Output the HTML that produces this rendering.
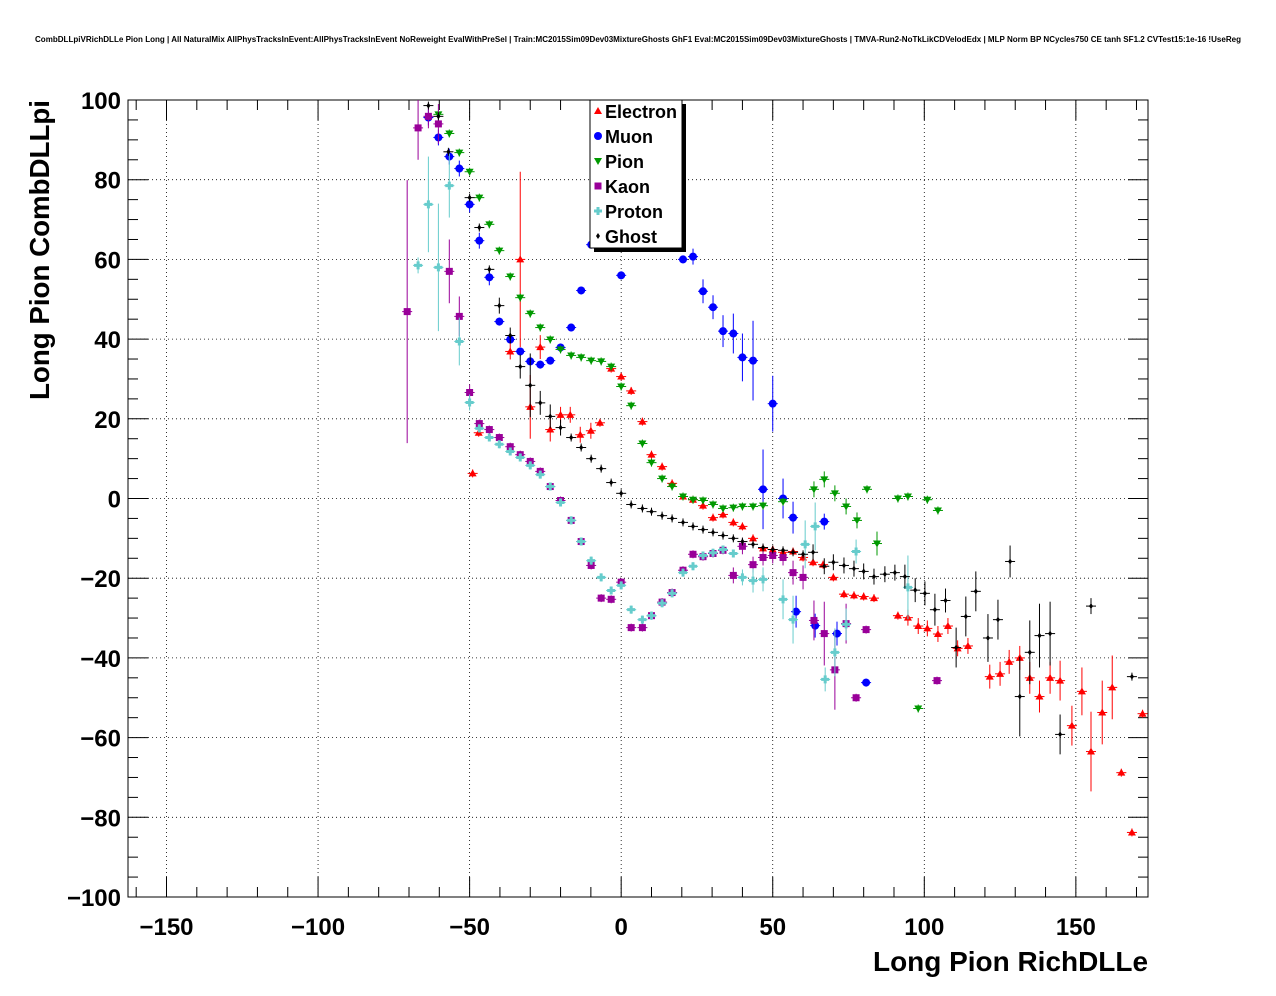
<!DOCTYPE html>
<html><head><meta charset="utf-8">
<style>
html,body{margin:0;padding:0;background:#fff;}
svg{display:block;font-family:"Liberation Sans",Arial,sans-serif;}
</style></head>
<body>
<svg id="chart" width="1276" height="996" xmlns="http://www.w3.org/2000/svg">
<rect width="1276" height="996" fill="#fff"/>
<text x="638" y="42" font-size="8" font-weight="bold" text-anchor="middle" textLength="1206" lengthAdjust="spacingAndGlyphs">CombDLLpiVRichDLLe Pion Long | All NaturalMix AllPhysTracksInEvent:AllPhysTracksInEvent NoReweight EvalWithPreSel | Train:MC2015Sim09Dev03MixtureGhosts GhF1 Eval:MC2015Sim09Dev03MixtureGhosts | TMVA-Run2-NoTkLikCDVelodEdx | MLP Norm BP NCycles750 CE tanh SF1.2 CVTest15:1e-16 !UseReg</text>
<g id="grid"></g>
<g id="axes"></g>
<g id="marks"></g>
<text x="1148" y="971" font-size="28" font-weight="bold" text-anchor="end" textLength="275" lengthAdjust="spacingAndGlyphs">Long Pion RichDLLe</text>
<text transform="translate(49,100) rotate(-90)" font-size="28" font-weight="bold" text-anchor="end" textLength="300" lengthAdjust="spacingAndGlyphs">Long Pion CombDLLpi</text>
<g id="legend"></g>
</svg>
<script>
const xTicks=[-150,-100,-50,0,50,100,150];
const yTicks=[-100,-80,-60,-40,-20,0,20,40,60,80,100];
const seriesNames=["Electron","Muon","Pion","Kaon","Proton","Ghost"];
const electronX=[-49,-47,-36.6,-33.3,-30,-26.7,-23.4,-20,-16.8,-13.5,-10,-7,-3.3,0,3.3,7,10,13.5,16.8,20.4,23.7,27,30.3,33.6,37,40,43.5,46.8,50,53.4,56.7,60,63.3,66.6,70,73.5,76.8,80,83.4,91.3,94.6,98,101,104.5,107.8,111,114.4,121.6,125,128,131.5,134.8,138,141.5,144.8,148.7,152,155,158.7,162,165,168.5,172];
const electronY=[6.3,16.5,36.9,60,23,38,17.3,21,21,16,17,19,32.6,30.6,27,19.3,11,8,3.8,0.5,-0.3,-1.8,-4.8,-4,-6,-7,-10,-12.5,-12.8,-13.5,-13.3,-14.8,-16,-16.6,-19.8,-24,-24.3,-24.6,-25,-29.4,-29.9,-32,-32.6,-34,-32,-37.6,-37,-44.7,-44,-41,-40,-45,-49.7,-45,-45.7,-57,-48.4,-63.5,-53.7,-47.4,-68.8,-83.8,-54];
const electronErr=[1,1,2,22,8,3,3,2,2,2,2,1,1,1,1,1,1,1,1,1,1,1,1,1,1,1,1,1,1,1,1,1,1,1,1,1,1,1,1,1,2,2,2,2,2,2,2,3,3,3,3,4,4,4,5,5,6,10,8,8,1,1,1];
const muonX=[-63.6,-60.3,-56.7,-53.4,-50,-46.8,-43.5,-40.2,-36.6,-33.3,-30,-26.7,-23.4,-20,-16.5,-13.2,-9.9,0,20.4,23.7,27,30.3,33.6,37,40,43.5,50,46.8,53.4,56.7,67,57.7,64,71.2,80.8];
const muonY=[95.6,90.6,85.8,82.8,73.8,64.7,55.5,44.4,39.9,36.9,34.4,33.6,34.6,37.9,42.9,52.2,63.7,56,60,60.7,52,48,42,41.4,35.4,34.6,23.8,2.3,0,-4.8,-5.8,-28.4,-31.9,-33.9,-46.2];
const muonErr=[2,2,2,2,2,2,2,1,1,1,1,1,1,1,1,1,1,1,1,2,3,3,4,5,6,10,7,10,5,4,2,4,3,3,1];
const pionX=[-60.3,-56.7,-53.4,-50,-46.8,-43.5,-40.2,-36.6,-33.3,-30,-26.7,-23.4,-20,-16.5,-13.2,-9.9,-6.6,-3.3,0,3.3,7,10,13.5,16.8,20.4,23.7,27,30.3,33.6,37,40,43.5,46.8,53.4,63.6,67,70.5,74.2,77.8,81.1,84.4,91.3,94.6,98,101,104.5];
const pionY=[96.4,91.6,86.8,82,75.5,68.8,62.2,55.7,50.4,46.4,42.9,39.9,37.4,35.9,35.4,34.6,34.4,33.1,28.1,23.3,13.8,9,5,3,0.5,-0.3,-0.5,-1.5,-2.5,-2.3,-2,-2,-1.8,-0.8,2.3,4.8,1.3,-2,-5.5,2.3,-11.3,0,0.5,-52.7,-0.3,-3];
const pionErr=[1,1,1,1,1,1,1,1,1,1,1,1,1,1,1,1,1,1,1,1,1,1,1,1,1,1,1,1,1,1,1,1,1,1,2,2,2,2,2,1,3,1,1,1,1,1];
const kaonX=[-70.6,-67,-63.6,-60.3,-56.7,-53.4,-50,-46.8,-43.5,-40.2,-36.6,-33.3,-30,-26.7,-23.4,-20,-16.5,-13.2,-9.9,-6.6,-3.3,0,3.3,7,10,13.5,16.8,20.4,23.7,27,30.3,33.6,37,40,43.5,46.8,50,53.4,56.7,60,63.6,67,70.5,74.2,77.5,80.8,104.2];
const kaonY=[46.9,93,95.9,94,57,45.7,26.6,18.8,17.3,15.3,13,11,9.3,6.8,3,-0.5,-5.5,-10.8,-16.8,-25,-25.3,-21,-32.4,-32.4,-29.4,-26,-23.6,-18,-14,-14.6,-13.8,-13,-19.3,-12,-16.6,-14.8,-14.3,-14.8,-18.6,-19.8,-30.6,-33.9,-43,-31.4,-50,-32.9,-45.7];
const kaonErr=[33,8,3,5,8,5,2,1,1,1,1,1,1,1,1,1,1,1,1,1,1,1,1,1,1,1,1,1,1,1,1,1,2,2,2,2,2,2,3,3,5,8,10,5,1,1,1];
const protonX=[-67,-63.6,-60.3,-56.7,-53.4,-50,-46.8,-43.5,-40.2,-36.6,-33.3,-30,-26.7,-23.4,-20,-16.5,-13.2,-9.9,-6.6,-3.3,0,3.3,7,10,13.5,16.8,20.4,23.7,27,30.3,33.6,37,40,43.5,46.8,53.4,56.7,60.7,64,67.3,70.5,74.2,77.5,94.6];
const protonY=[58.5,73.8,58,78.5,39.4,24.1,17.6,15.3,13.6,11.8,10.3,8.3,6,3,-1,-5.5,-10.8,-15.6,-19.8,-23.1,-21.8,-27.9,-30.4,-29.4,-26.3,-23.8,-18.6,-17,-14.3,-13.6,-12.8,-13.8,-19.8,-20.6,-20.3,-25.3,-30.4,-11.5,-7,-45.4,-38.6,-31.6,-13.3,-22.3];
const protonErr=[2,12,16,8,6,2,1,1,1,1,1,1,1,1,1,1,1,1,1,1,1,1,1,1,1,1,1,1,1,1,1,1,2,3,3,5,6,6,6,3,6,4,3,8];
const ghostX=[-63.6,-60.3,-57,-50,-46.8,-43.5,-40.2,-36.6,-33.3,-30,-26.7,-23.4,-20,-16.5,-13.2,-9.9,-6.6,-3.3,0,3.3,7,10,13.5,16.8,20.4,23.7,27,30.3,33.6,37,40,43.5,46.8,50,53.4,56.7,60,63.3,67,70,73.5,76.8,80,83.4,87,90.3,93.6,97,100.2,103.5,107,110.5,113.7,117,121,124.3,128.3,131.5,134.8,138,141.5,144.8,155,168.5];
const ghostY=[98.6,95.9,87,75.5,68,57.5,48.4,40.9,33.1,28.4,24,20.6,17.8,15.3,12.8,10,7.5,4,1.3,-1.5,-2.5,-3.3,-4.3,-5,-6,-7,-7.8,-8.5,-9.3,-10,-10.8,-11.5,-12.3,-12.8,-13,-13.5,-14,-13.5,-17,-16,-16.8,-17.6,-18.3,-19.6,-19,-18.6,-19.6,-23,-23.8,-27.9,-25.6,-37.4,-29.6,-23.3,-35,-30.4,-15.8,-49.7,-38.6,-34.4,-33.9,-59.2,-27,-44.7];
const ghostErr=[1,1,1,1,1,1,2,2,3,8,3,3,2,1,1,1,1,1,1,1,1,1,1,1,1,1,1,1,1,1,1,1,1,1,1,1,1,2,2,2,2,2,2,2,2,2,3,3,3,4,3,5,5,5,6,5,4,10,8,8,8,5,2,1];

const X0=128,X1=1148,Y0=100,Y1=897,xmin=-162.7,xmax=173.8,ymin=-100,ymax=100;
const sx=v=>X0+(v-xmin)/(xmax-xmin)*(X1-X0);
const sy=v=>Y1-(v-ymin)/(ymax-ymin)*(Y1-Y0);
const NS="http://www.w3.org/2000/svg";
function mk(tag,attrs,parent){const e=document.createElementNS(NS,tag);for(const k in attrs)e.setAttribute(k,attrs[k]);parent.appendChild(e);return e;}
const grid=document.getElementById('grid'),axes=document.getElementById('axes'),marks=document.getElementById('marks'),legend=document.getElementById('legend');
xTicks.forEach(t=>{const l=mk('line',{x1:sx(t),x2:sx(t),y1:Y0,y2:Y1,stroke:'#000','stroke-width':0.8,'stroke-dasharray':'1,3'},grid);

});
yTicks.forEach(t=>{const l=mk('line',{x1:X0,x2:X1,y1:sy(t),y2:sy(t),stroke:'#000','stroke-width':0.8,'stroke-dasharray':'1,3'},grid);

});
const fr=mk('rect',{x:X0,y:Y0,width:X1-X0,height:Y1-Y0,fill:'none',stroke:'#000','stroke-width':1},axes);


for(let v=-160;v<=170;v+=10){const maj=v%50===0;const len=maj?20:10;
mk('line',{x1:sx(v),x2:sx(v),y1:Y1,y2:Y1-len,stroke:'#000'},axes);
mk('line',{x1:sx(v),x2:sx(v),y1:Y0,y2:Y0+len,stroke:'#000'},axes);}
for(let v=-100;v<=100;v+=5){const maj=v%20===0;const len=maj?20:10;
mk('line',{x1:X0,x2:X0+len,y1:sy(v),y2:sy(v),stroke:'#000'},axes);
mk('line',{x1:X1,x2:X1-len,y1:sy(v),y2:sy(v),stroke:'#000'},axes);}
xTicks.forEach(t=>{const e=mk('text',{x:sx(t),y:935,'font-size':24,'font-weight':'bold','text-anchor':'middle'},axes);e.textContent=(t<0?'\u2212'+(-t):t);

});
yTicks.forEach(t=>{const e=mk('text',{x:121,y:sy(t)+9,'font-size':24,'font-weight':'bold','text-anchor':'end'},axes);e.textContent=(t<0?'\u2212'+(-t):t);

});
const colors=["#ff0000","#0000ff","#009900","#990099","#66cccc","#000000"];
function marker(kind,cx,cy,col,parent){
 if(kind===0)return mk('polygon',{points:`${cx},${cy-4} ${cx+4},${cy+3} ${cx-4},${cy+3}`,fill:col},parent);
 if(kind===1)return mk('circle',{cx:cx,cy:cy,r:4,fill:col},parent);
 if(kind===2)return mk('polygon',{points:`${cx-4},${cy-3} ${cx+4},${cy-3} ${cx},${cy+4}`,fill:col},parent);
 if(kind===3)return mk('rect',{x:cx-3.5,y:cy-3.5,width:7,height:7,fill:col},parent);
 if(kind===4)return mk('path',{d:`M${cx-4},${cy-1.5}h2.5v-2.5h3v2.5h2.5v3h-2.5v2.5h-3v-2.5h-2.5z`,fill:col},parent);
 return mk('polygon',{points:`${cx},${cy-3} ${cx+2},${cy} ${cx},${cy+3} ${cx-2},${cy}`,fill:col},parent);
}
const allX=[electronX,muonX,pionX,kaonX,protonX,ghostX],allY=[electronY,muonY,pionY,kaonY,protonY,ghostY],allE=[electronErr,muonErr,pionErr,kaonErr,protonErr,ghostErr];
allX.forEach((xs,s)=>{const g=mk('g',{},marks);


xs.forEach((xv,i)=>{const yv=allY[s][i],cx=sx(xv),cy=sy(yv),er=allE[s][i]||1;
 if(cx<X0||cx>X1)return;
 mk('line',{x1:cx-5,x2:cx+5,y1:cy,y2:cy,stroke:colors[s],'stroke-width':1},g);
 mk('line',{x1:cx,x2:cx,y1:Math.max(Y0,sy(yv+er)),y2:Math.min(Y1,sy(yv-er)),stroke:colors[s],'stroke-width':1},g);
 const m=marker(s,cx,cy,colors[s],g);
 
 });});
mk('rect',{x:594,y:104,width:92,height:148,fill:'#000'},legend);
const lb=mk('rect',{x:590,y:100,width:92,height:148,fill:'#fff',stroke:'#000'},legend);


seriesNames.forEach((n,i)=>{const y=111+i*25;const g=mk('g',{},legend);


marker(i,598,y,colors[i],g);
const t=mk('text',{x:605,y:y+7,'font-size':18,'font-weight':'bold'},g);t.textContent=n;});
</script>
</body></html>
